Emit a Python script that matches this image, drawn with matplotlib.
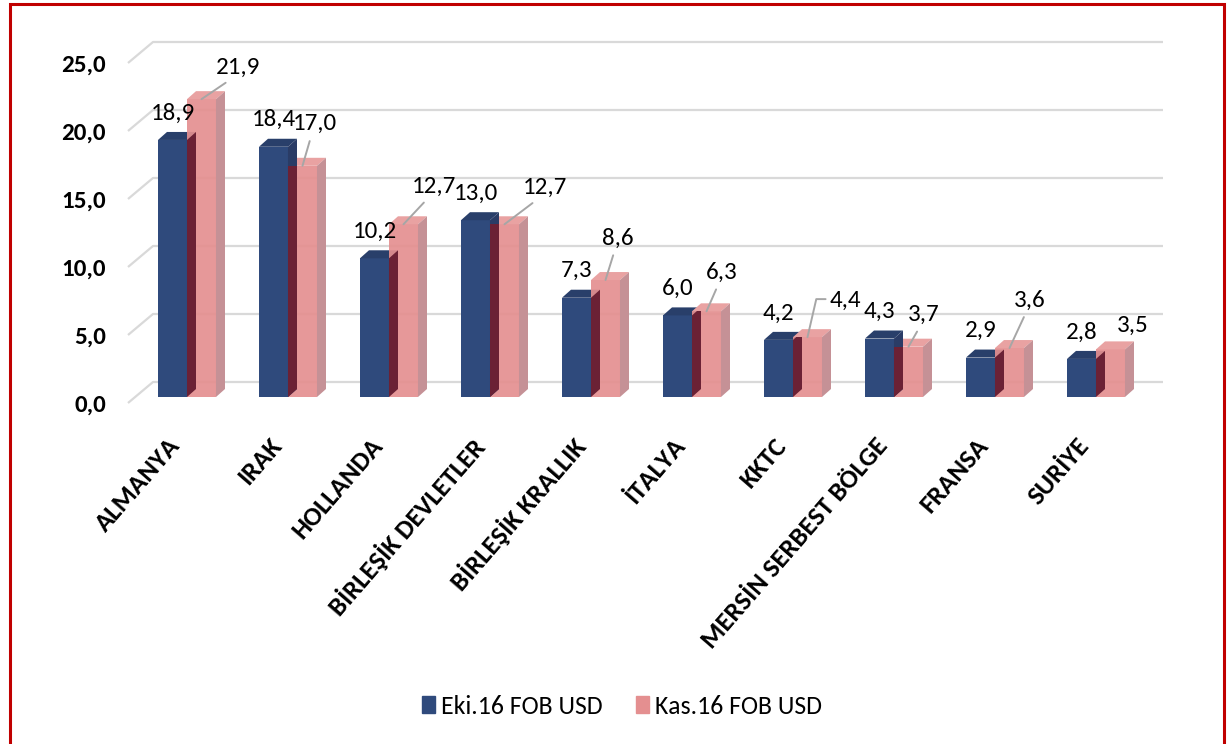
import numpy as np
import matplotlib
matplotlib.use('Agg')
import matplotlib.pyplot as plt
from matplotlib.patches import Polygon, Rectangle, Patch

# data
categories = ['ALMANYA', 'IRAK', 'HOLLANDA', 'BİRLEŞİK DEVLETLER', 'BİRLEŞİK KRALLIK',
              'İTALYA', 'KKTC', 'MERSİN SERBEST BÖLGE', 'FRANSA', 'SURİYE']
eki = [18.9, 18.4, 10.2, 13.0, 7.3, 6.0, 4.2, 4.3, 2.9, 2.8]
kas = [21.9, 17.0, 12.7, 12.7, 8.6, 6.3, 4.4, 3.7, 3.6, 3.5]
series_names = ['Eki.16 FOB USD', 'Kas.16 FOB USD']
yticks = [0, 5, 10, 15, 20, 25]

# label offsets for the Kas bars (pixels from top of bar) and leader kind
kas_label_off = [(37, 32), (12, 42), (30, 38), (40, 37), (12, 42),
                 (15, 39), (38, 37), (15, 32), (20, 48), (22, 24)]
kas_leader = ['line'] * 6 + ['elbow', 'line', 'line', None]

plt.rcParams['font.family'] = ['Carlito', 'DejaVu Sans']

W, H = 1227, 744
PX, PY = 101.0, 13.6          # pixels per category / per unit
left, right, top, bottom = 128, 1163, 30, 403

fig = plt.figure(figsize=(W / 100, H / 100), dpi=100)
ax = fig.add_axes([left / W, 1 - bottom / H, (right - left) / W, (bottom - top) / H])
ax.set_xlim(-0.5, -0.5 + (right - left) / PX)
ax.set_ylim(0, (bottom - top) / PY)

# depth offsets
WX, WY = 25 / PX, 21 / PY     # back wall
DX, DY = 9 / PX, 8 / PY       # bar depth
bw = 29 / PX
x0 = -0.203
base = 6 / PY

blue_f, blue_t, blue_s = '#2f4a7c', '#293f6a', '#2a3c66'
pink_f, pink_t, pink_s = '#e48f90', '#e9a2a2', '#c59196'
maroon = '#6b2135'
grid_c = '#d9d9d9'

# gridlines on the back wall
for t in yticks:
    ax.plot([-0.5, -0.5 + WX, 9.5 + WX], [t, t + WY, t + WY], color=grid_c, lw=1.6,
            zorder=1, clip_on=False, solid_capstyle='butt')


def side_poly(xr, h, **kw):
    return Polygon([(xr, base), (xr + DX, base + DY), (xr + DX, base + h + DY), (xr, base + h)],
                   closed=True, lw=0, **kw)


def top_poly(xl, h, **kw):
    return Polygon([(xl, base + h), (xl + DX, base + h + DY), (xl + bw + DX, base + h + DY),
                    (xl + bw, base + h)], closed=True, lw=0, **kw)


n = len(categories)
xb = np.arange(n) + x0
xp = xb + bw

bars_b = ax.bar(xb, eki, width=bw, bottom=base, align='edge', color=blue_f, lw=0, zorder=2)
bars_p = ax.bar(xp, kas, width=bw, bottom=base, align='edge', color=pink_f, lw=0,
                zorder=3, alpha=0.92)

for i in range(n):
    vb, vp = eki[i], kas[i]
    ax.add_patch(top_poly(xb[i], vb, color=blue_t, zorder=2))
    ax.add_patch(side_poly(xp[i], vb, color=blue_s, zorder=3.5 if vb > vp else 2))
    ax.add_patch(top_poly(xp[i], vp, color=pink_t, zorder=3))
    ax.add_patch(side_poly(xp[i] + bw, vp, color=pink_s, zorder=3))
    m = side_poly(xp[i], vb, color=maroon, zorder=4)
    ax.add_patch(m)
    m.set_clip_path(bars_p[i])

    # labels
    ax.annotate(f'{vb:.1f}'.replace('.', ','), xy=(xb[i] + bw / 2, base + vb),
                xytext=(0, 27), textcoords='offset pixels', ha='center', va='center',
                fontsize=18, zorder=6)
    dx, dy = kas_label_off[i]
    kind = kas_leader[i]
    arrow = None
    if kind == 'line':
        arrow = dict(arrowstyle='-', color='#a6a6a6', lw=1.4, shrinkA=3, shrinkB=0,
                     relpos=(0.45, 0.1))
    elif kind == 'elbow':
        arrow = dict(arrowstyle='-', color='#a6a6a6', lw=1.4, shrinkA=1, shrinkB=0,
                     relpos=(0.0, 0.55), connectionstyle='angle,angleA=0,angleB=77,rad=0')
    ax.annotate(f'{vp:.1f}'.replace('.', ','), xy=(xp[i] + bw / 2, base + vp),
                xytext=(dx, dy), textcoords='offset pixels', ha='center', va='center',
                fontsize=18, zorder=6, arrowprops=arrow)

# axes styling
for s in ax.spines.values():
    s.set_visible(False)
ax.set_yticks(yticks, [f'{t:.1f}'.replace('.', ',') for t in yticks])
ax.tick_params(axis='y', length=0, pad=16, labelsize=18)
for lab in ax.get_yticklabels():
    lab.set_fontweight('bold')

ax.set_xticks(np.arange(n) - 0.11, categories)
ax.tick_params(axis='x', length=0, pad=22, labelsize=19.3)
for lab in ax.get_xticklabels():
    lab.set_rotation(49)
    lab.set_ha('right')
    lab.set_rotation_mode('anchor')
    lab.set_fontweight('bold')

# legend
handles = [Patch(color=blue_f), Patch(color=pink_f)]
fig.legend(handles, series_names, loc='center', bbox_to_anchor=(622 / W, 1 - 706 / H),
           ncol=2, frameon=False, fontsize=18.5, handlelength=0.5, handleheight=0.62,
           handletextpad=0.23, columnspacing=1.32)

# red frame
fig.add_artist(Rectangle((10 / W, -0.05), 1214 / W, 1.05 - 4 / H, transform=fig.transFigure,
                         fill=False, edgecolor='#c00000', lw=2.2))

fig.savefig('out.png', dpi=100)
